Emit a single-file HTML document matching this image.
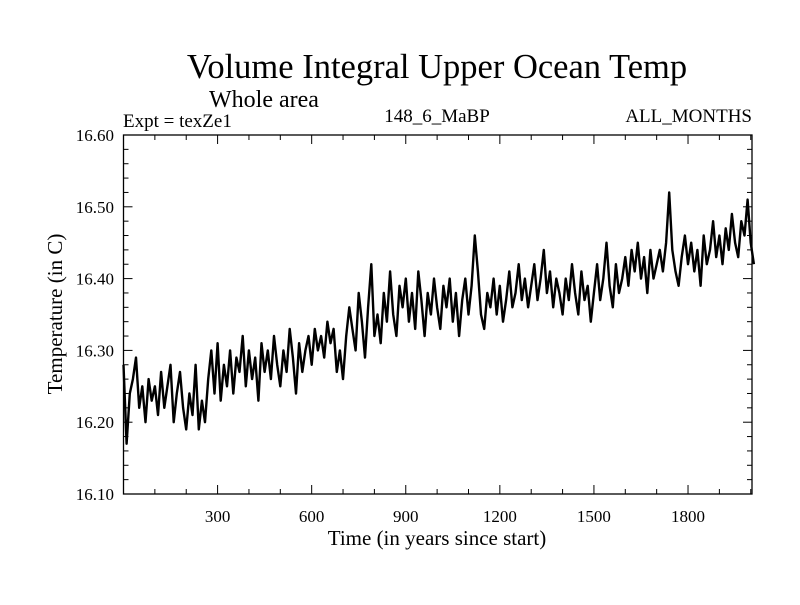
<!DOCTYPE html>
<html><head><meta charset="utf-8"><style>
body{margin:0;background:#fff}
svg text{font-family:"Liberation Serif",serif;fill:#000}
</style></head><body>
<svg id="chart" width="800" height="600" viewBox="0 0 800 600" xmlns="http://www.w3.org/2000/svg">
<text x="437" y="78" font-size="34.5" text-anchor="middle">Volume Integral Upper Ocean Temp</text>
<text x="264" y="107" font-size="24" text-anchor="middle">Whole area</text>
<text x="123" y="127" font-size="19">Expt = texZe1</text>
<text x="437" y="122" font-size="19" text-anchor="middle">148_6_MaBP</text>
<text x="752" y="122" font-size="19" text-anchor="end">ALL_MONTHS</text>
<text x="437" y="545" font-size="21" text-anchor="middle">Time (in years since start)</text>
<text transform="translate(62,314) rotate(-90)" font-size="21" text-anchor="middle">Temperature (in C)</text>
<g id="axes"></g>
<g id="series"></g>
<rect x="123.5" y="135" width="628.5" height="359" fill="none" stroke="#000" stroke-width="1.3"/>
</svg>
<script>
const xTicks=[300,600,900,1200,1500,1800];
const yTicks=[16.10,16.20,16.30,16.40,16.50,16.60];
const startYear=0, stepYears=10;
const temps=[16.28,16.17,16.24,16.26,16.29,16.22,16.25,16.20,16.26,16.23,16.25,
16.21,16.27,16.22,16.25,16.28,16.20,16.24,16.27,16.22,16.19,
16.24,16.21,16.28,16.19,16.23,16.20,16.26,16.30,16.24,16.31,
16.23,16.28,16.25,16.30,16.24,16.29,16.27,16.32,16.25,16.30,
16.26,16.29,16.23,16.31,16.27,16.30,16.26,16.32,16.28,16.25,
16.30,16.27,16.33,16.29,16.24,16.31,16.27,16.30,16.32,16.28,
16.33,16.30,16.32,16.29,16.34,16.31,16.33,16.27,16.30,16.26,
16.32,16.36,16.33,16.30,16.38,16.34,16.29,16.36,16.42,16.32,
16.35,16.31,16.38,16.34,16.41,16.35,16.32,16.39,16.36,16.40,
16.34,16.38,16.33,16.41,16.37,16.32,16.38,16.35,16.40,16.36,
16.33,16.39,16.36,16.40,16.34,16.38,16.32,16.37,16.40,16.35,
16.39,16.46,16.41,16.35,16.33,16.38,16.36,16.40,16.35,16.39,
16.34,16.37,16.41,16.36,16.38,16.42,16.37,16.40,16.36,16.39,
16.42,16.37,16.40,16.44,16.38,16.41,16.36,16.40,16.38,16.35,
16.40,16.37,16.42,16.38,16.35,16.41,16.37,16.39,16.34,16.38,
16.42,16.37,16.40,16.45,16.39,16.36,16.42,16.38,16.40,16.43,
16.39,16.44,16.41,16.45,16.40,16.43,16.38,16.44,16.40,16.42,
16.44,16.41,16.45,16.52,16.44,16.41,16.39,16.43,16.46,16.42,
16.45,16.41,16.44,16.39,16.46,16.42,16.44,16.48,16.43,16.46,
16.42,16.47,16.44,16.49,16.45,16.43,16.48,16.46,16.51,16.45,16.42];
const L=123.5,R=752,T=135,B=494,X0=0,X1=2004,Y0=16.10,Y1=16.60;
const sx=v=>L+(v-X0)/(X1-X0)*(R-L);
const sy=v=>B-(v-Y0)/(Y1-Y0)*(B-T);
const NS='http://www.w3.org/2000/svg';
const axes=document.getElementById('axes');
function line(x1,y1,x2,y2,name){const l=document.createElementNS(NS,'line');
l.setAttribute('x1',x1);l.setAttribute('y1',y1);l.setAttribute('x2',x2);l.setAttribute('y2',y2);
l.setAttribute('stroke','#000');l.setAttribute('stroke-width','1');


axes.appendChild(l);}
function txt(x,y,s,anchor,name){const t=document.createElementNS(NS,'text');
t.setAttribute('x',x);t.setAttribute('y',y);t.setAttribute('font-size','17');t.setAttribute('text-anchor',anchor);t.textContent=s;


axes.appendChild(t);}
for(let v=100;v<X1;v+=100){const x=sx(v);const major=v%300===0;const len=major?9:5;
line(x,B,x,B-len,'x-tick');line(x,T,x,T+len,'x-tick-top');}
xTicks.forEach(v=>txt(sx(v),522,String(v),'middle','x-tick-label'));
for(let i=0;i<=25;i++){const v=Y0+i*0.02;const y=sy(v);const major=i%5===0;const len=major?9:5;
line(L,y,L+len,y,'y-tick');line(R,y,R-len,y,'y-tick-right');}
yTicks.forEach(v=>txt(114,sy(v)+6,v.toFixed(2),'end','y-tick-label'));
const pts=temps.map((v,i)=>sx(startYear+i*stepYears).toFixed(1)+','+sy(v).toFixed(1)).join(' ');
const pl=document.createElementNS(NS,'polyline');
pl.setAttribute('points',pts);pl.setAttribute('fill','none');pl.setAttribute('stroke','#000');pl.setAttribute('stroke-width','2.4');pl.setAttribute('stroke-linejoin','round');


document.getElementById('series').appendChild(pl);
</script>
</body></html>
